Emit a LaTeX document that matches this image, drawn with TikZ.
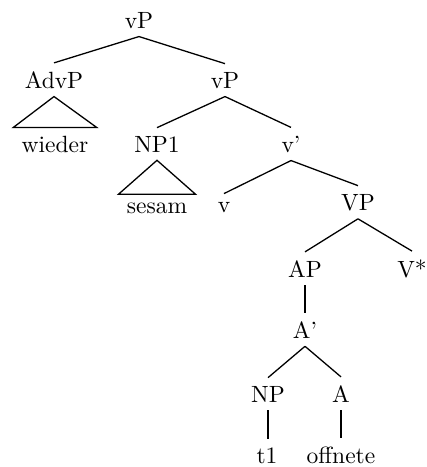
\documentclass[tikz,border=0pt]{standalone}
\begin{document}
\begin{tikzpicture}[x=0.4255pt,y=-0.4255pt,
  lbl/.style={anchor=base,inner sep=3.33pt},
  edge/.style={line width=0.55pt},
  every node/.style={font=\normalsize}]
\useasboundingbox (0,0) rectangle (426,467);
\node[lbl] (vP0) at (139,28) {vP};
\node[lbl] (AdvP) at (54,88) {AdvP};
\node[lbl] (vP1) at (225,88) {vP};
\node[lbl] (wieder) at (55,152) {wieder};
\node[lbl] (NP1) at (157,152) {NP1};
\node[lbl] (vbar) at (291,152) {v'};
\node[lbl] (sesam) at (157,213) {sesam};
\node[lbl] (v) at (224,212) {v};
\node[lbl] (VP) at (358,210) {VP};
\node[lbl] (AP) at (305,277) {AP};
\node[lbl] (Vstar) at (412,277) {V*};
\node[lbl] (Abar) at (305,338) {A'};
\node[lbl] (NP) at (268,402) {NP};
\node[lbl] (A) at (341,402) {A};
\node[lbl] (t1) at (267,463) {t1};
\node[lbl] (off) at (341,463) {offnete};
\draw[edge] (vP0.south) -- (AdvP.north);
\draw[edge] (vP0.south) -- (vP1.north);
\draw[edge] (AdvP.south) -- (wieder.north west) -- (wieder.north east) -- cycle;
\draw[edge] (vP1.south) -- (NP1.north);
\draw[edge] (vP1.south) -- (vbar.north);
\draw[edge] (NP1.south) -- (sesam.north west) -- (sesam.north east) -- cycle;
\draw[edge] (vbar.south) -- (v.north);
\draw[edge] (vbar.south) -- (VP.north);
\draw[edge] (VP.south) -- (AP.north);
\draw[edge] (VP.south) -- (Vstar.north);
\draw[edge] (AP.south) -- (Abar.north);
\draw[edge] (Abar.south) -- (NP.north);
\draw[edge] (Abar.south) -- (A.north);
\draw[edge] (NP.south) -- (NP.south |- t1.north);
\draw[edge] (A.south) -- (off.north);
\end{tikzpicture}
\end{document}
